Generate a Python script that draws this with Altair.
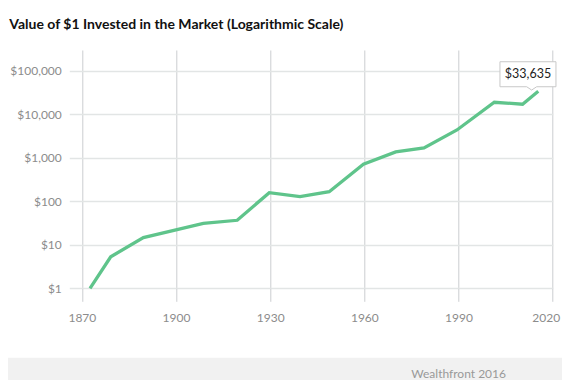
import altair as alt
import pandas as pd

# ---- data ----
years = [1872.6, 1879.2, 1889.6, 1908.7, 1919.5, 1929.7, 1939.5, 1948.8,
         1959.7, 1970.0, 1979.0, 1989.5, 2001.4, 2010.4, 2015.4]
values = [1.0, 5.3, 14.6, 31.2, 36.6, 158, 128, 166,
          708, 1360, 1680, 4360, 18900, 17000, 33635]
x_ticks = [1870, 1900, 1930, 1960, 1990, 2020]
y_ticks = [1, 10, 100, 1000, 10000, 100000]
title_text = "Value of $1 Invested in the Market (Logarithmic Scale)"
callout_text = "$33,635"
source_text = "Wealthfront 2016"

FONT = "Lato"
LINE = "#5fc48b"

df = pd.DataFrame({"year": years, "value": values})
last = df.tail(1).assign(label=callout_text)

W, H = 483.4, 238.3
LEFT, TOP = 61.3, 42.0
TOTAL_W, TOTAL_H = 554, 372

xscale = alt.Scale(domain=[1866, 2020], nice=False, zero=False)
yscale = alt.Scale(type="log", domain=[1, 300000], nice=False)

base = alt.Chart(df)

line = base.mark_line(color=LINE, strokeWidth=3.3).encode(
    x=alt.X("year:Q", scale=xscale,
            axis=alt.Axis(values=x_ticks, format="d", title=None, grid=True,
                          gridColor="#cbcdd0", gridWidth=1, tickColor="#cbcdd0",
                          tickSize=13, domain=False, labelPadding=11,
                          labelFont=FONT, labelFontSize=12, labelColor="#8c8c8c",
                          labelFlush=1, labelFlushOffset=7)),
    y=alt.Y("value:Q", scale=yscale,
            axis=alt.Axis(values=y_ticks, title=None, grid=True,
                          gridColor="#e2e5e5", gridWidth=1.6, tickSize=0,
                          domain=False, labelPadding=8,
                          labelExpr="'$' + format(datum.value, ',')",
                          labelFont=FONT, labelFontSize=12, labelColor="#8c8c8c")),
)

box_path = ("M-0.9575,-0.74 L0.4425,-0.74 L0.4425,-0.115 L-0.04,-0.115 "
            "L-0.165,-0.0325 L-0.29,-0.115 L-0.9575,-0.115 Z")
callout_box = alt.Chart(last).mark_point(
    shape=box_path, size=6400, filled=True, fill="white", fillOpacity=1,
    stroke="#c8c8c8", strokeWidth=1, opacity=1
).encode(x=alt.X("year:Q", scale=xscale), y=alt.Y("value:Q", scale=yscale))

callout_txt = alt.Chart(last).mark_text(
    font=FONT, fontSize=12.5, color="#222222", dx=-10.3, dy=-17.3,
    align="center", baseline="middle"
).encode(x=alt.X("year:Q", scale=xscale), y=alt.Y("value:Q", scale=yscale),
         text="label:N")

title = alt.Chart(pd.DataFrame({"t": [title_text]})).mark_text(
    font=FONT, fontSize=14, fontWeight="bold", color="#111111",
    align="left", baseline="middle"
).encode(x=alt.value(-60), y=alt.value(-25), text="t:N")

footer_band = alt.Chart(pd.DataFrame({"a": [0]})).mark_rect(color="#f1f1f1").encode(
    x=alt.value(-LEFT), x2=alt.value(TOTAL_W - LEFT),
    y=alt.value(357.7 - 8 - TOP), y2=alt.value(TOTAL_H - TOP))

footer_txt = alt.Chart(pd.DataFrame({"t": [source_text]})).mark_text(
    font=FONT, fontSize=12, color="#999999", align="right", baseline="middle"
).encode(x=alt.value(506 - 8 - LEFT), y=alt.value(374 - 8 - TOP), text="t:N")

chart = alt.layer(footer_band, line, callout_box, callout_txt, title, footer_txt).properties(
    width=W, height=H,
    autosize=alt.AutoSizeParams(type="none"),
    padding={"left": LEFT, "top": TOP, "right": TOTAL_W - LEFT - W,
             "bottom": TOTAL_H - TOP - H},
    background="white",
).configure_view(stroke=None)

chart.save("out.html", embed_options={"renderer": "svg", "actions": False})
